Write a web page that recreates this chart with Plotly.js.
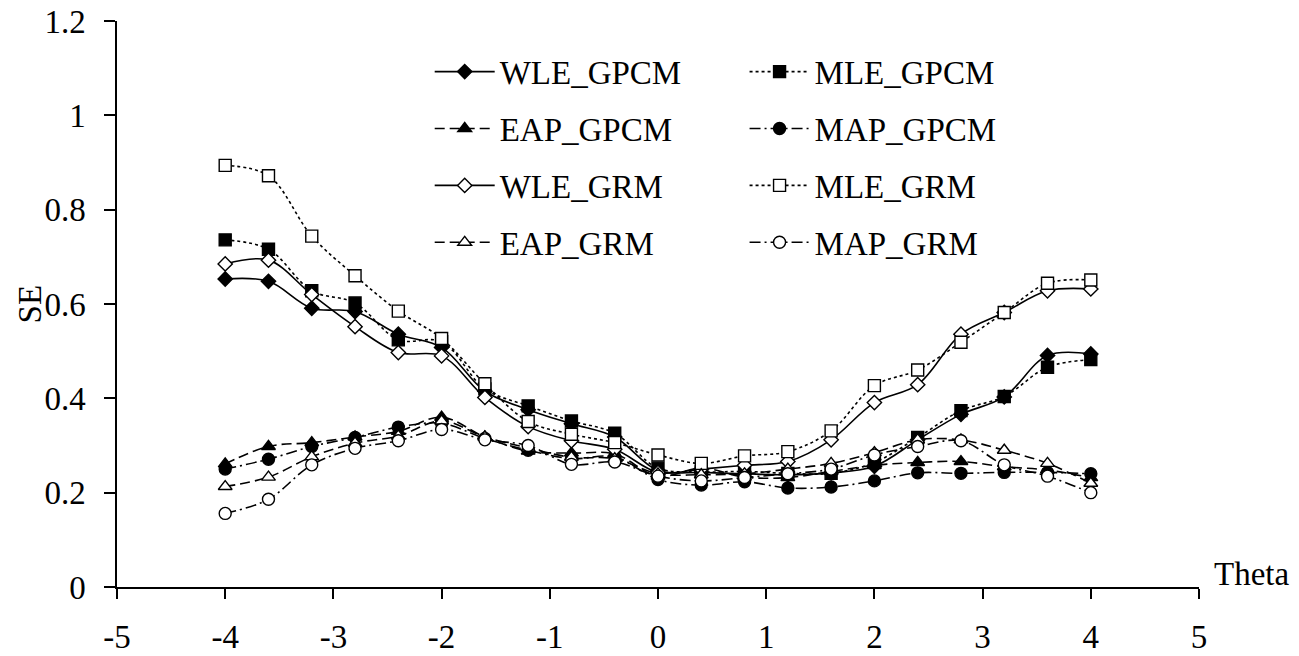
<!DOCTYPE html>
<html>
<head>
<meta charset="utf-8">
<script src="https://cdn.plot.ly/plotly-3.0.1.min.js"></script>
<style>html,body{margin:0;padding:0;background:#fff;}#chart{width:1299px;height:656px;}</style>
</head>
<body>
<div id="chart"></div>
<script>
const theta = [-4,-3.6,-3.2,-2.8,-2.4,-2,-1.6,-1.2,-0.8,-0.4,0,0.4,0.8,1.2,1.6,2,2.4,2.8,3.2,3.6,4];

const WLE_GPCM = [0.653,0.648,0.591,0.584,0.536,0.508,0.415,0.376,0.346,0.318,0.247,0.243,0.240,0.238,0.242,0.256,0.312,0.366,0.403,0.491,0.494];
const MLE_GPCM = [0.736,0.716,0.628,0.602,0.524,0.520,0.420,0.384,0.352,0.326,0.252,0.244,0.245,0.241,0.241,0.264,0.317,0.374,0.404,0.466,0.482];
const EAP_GPCM = [0.261,0.298,0.306,0.318,0.330,0.360,0.318,0.288,0.284,0.282,0.235,0.252,0.233,0.232,0.245,0.258,0.264,0.266,0.255,0.248,0.232];
const MAP_GPCM = [0.250,0.271,0.298,0.317,0.339,0.347,0.315,0.290,0.272,0.276,0.228,0.216,0.223,0.210,0.212,0.225,0.242,0.241,0.243,0.243,0.240];
const WLE_GRM  = [0.685,0.693,0.620,0.552,0.497,0.490,0.402,0.340,0.310,0.292,0.243,0.250,0.258,0.266,0.312,0.391,0.429,0.536,0.582,0.628,0.632];
const MLE_GRM  = [0.894,0.872,0.744,0.660,0.585,0.527,0.431,0.351,0.324,0.306,0.280,0.262,0.278,0.287,0.331,0.427,0.460,0.519,0.582,0.644,0.651];
const EAP_GRM  = [0.213,0.233,0.276,0.305,0.320,0.352,0.318,0.295,0.275,0.272,0.240,0.238,0.240,0.250,0.262,0.285,0.312,0.312,0.290,0.262,0.220];
const MAP_GRM  = [0.156,0.186,0.259,0.294,0.310,0.334,0.312,0.300,0.260,0.265,0.235,0.225,0.232,0.240,0.250,0.280,0.298,0.310,0.259,0.235,0.200];

const xTickVals = [-5,-4,-3,-2,-1,0,1,2,3,4,5];
const xTickText = ["-5","-4","-3","-2","-1","0","1","2","3","4","5"];

const FONT = "Times New Roman, Liberation Serif, Tinos, DejaVu Serif, serif";
const DASH_EAP = "10px,5px";
const DASH_MAP = "11px,4px,2px,4px";

function tr(name, y, dash, symbol, filled, legend) {
  return {
    x: theta, y: y, name: name, type: "scatter", mode: "lines+markers",
    legend: legend, legendgroup: name,
    line: {color: "#000", width: 1.6, dash: dash, shape: "spline", smoothing: 1},
    marker: {symbol: symbol, size: symbol === "diamond" ? 11 : 12,
             color: filled ? "#000" : "#fff",
             line: {color: "#000", width: 1.4}},
    hoverinfo: "x+y+name"
  };
}

const data = [
  tr("WLE_GPCM", WLE_GPCM, "solid", "diamond", true, "legend"),
  tr("MLE_GPCM", MLE_GPCM, "dot", "square", true, "legend2"),
  tr("EAP_GPCM", EAP_GPCM, DASH_EAP, "triangle-up", true, "legend"),
  tr("MAP_GPCM", MAP_GPCM, DASH_MAP, "circle", true, "legend2"),
  tr("WLE_GRM", WLE_GRM, "solid", "diamond", false, "legend"),
  tr("MLE_GRM", MLE_GRM, "dot", "square", false, "legend2"),
  tr("EAP_GRM", EAP_GRM, DASH_EAP, "triangle-up", false, "legend"),
  tr("MAP_GRM", MAP_GRM, DASH_MAP, "circle", false, "legend2")
];

const legendCommon = {
  orientation: "v", traceorder: "grouped", tracegroupgap: 11,
  itemwidth: 60, bgcolor: "rgba(0,0,0,0)", borderwidth: 0,
  font: {family: FONT, size: 33, color: "#000"},
  xanchor: "left", yanchor: "top", itemclick: false, itemdoubleclick: false
};

const layout = {
  width: 1299, height: 656,
  margin: {l: 117, r: 100, t: 21, b: 69, pad: 0},
  paper_bgcolor: "#fff", plot_bgcolor: "#fff",
  font: {family: FONT, size: 33, color: "#000"},
  showlegend: true,
  legend: Object.assign({}, legendCommon, {x: 0.289, y: 0.960}),
  legend2: Object.assign({}, legendCommon, {x: 0.580, y: 0.960}),
  xaxis: {
    range: [-5, 5], tickvals: xTickVals, ticktext: xTickText,
    showgrid: false, zeroline: false, showline: true, linecolor: "#000", linewidth: 1.5,
    ticks: "outside", ticklen: 10, tickwidth: 1.5, tickcolor: "#000",
    ticklabelstandoff: 10,
    tickfont: {family: FONT, size: 33, color: "#000"}
  },
  yaxis: {
    range: [0, 1.2], dtick: 0.2, tick0: 0,
    showgrid: false, zeroline: false, showline: true, linecolor: "#000", linewidth: 1.5,
    ticks: "outside", ticklen: 11, tickwidth: 1.5, tickcolor: "#000",
    ticklabelstandoff: 12,
    tickfont: {family: FONT, size: 33, color: "#000"}
  },
  annotations: [
    {text: "SE", xref: "paper", yref: "paper", x: -0.080, y: 0.5,
     xanchor: "center", yanchor: "middle", textangle: -90, showarrow: false,
     font: {family: FONT, size: 33, color: "#000"}},
    {text: "Theta", xref: "paper", yref: "y", x: 1.012, y: 0.027,
     xanchor: "left", yanchor: "middle", showarrow: false,
     font: {family: FONT, size: 33, color: "#000"}}
  ]
};

Plotly.newPlot("chart", data, layout, {displayModeBar: false, staticPlot: false});
</script>
</body>
</html>
